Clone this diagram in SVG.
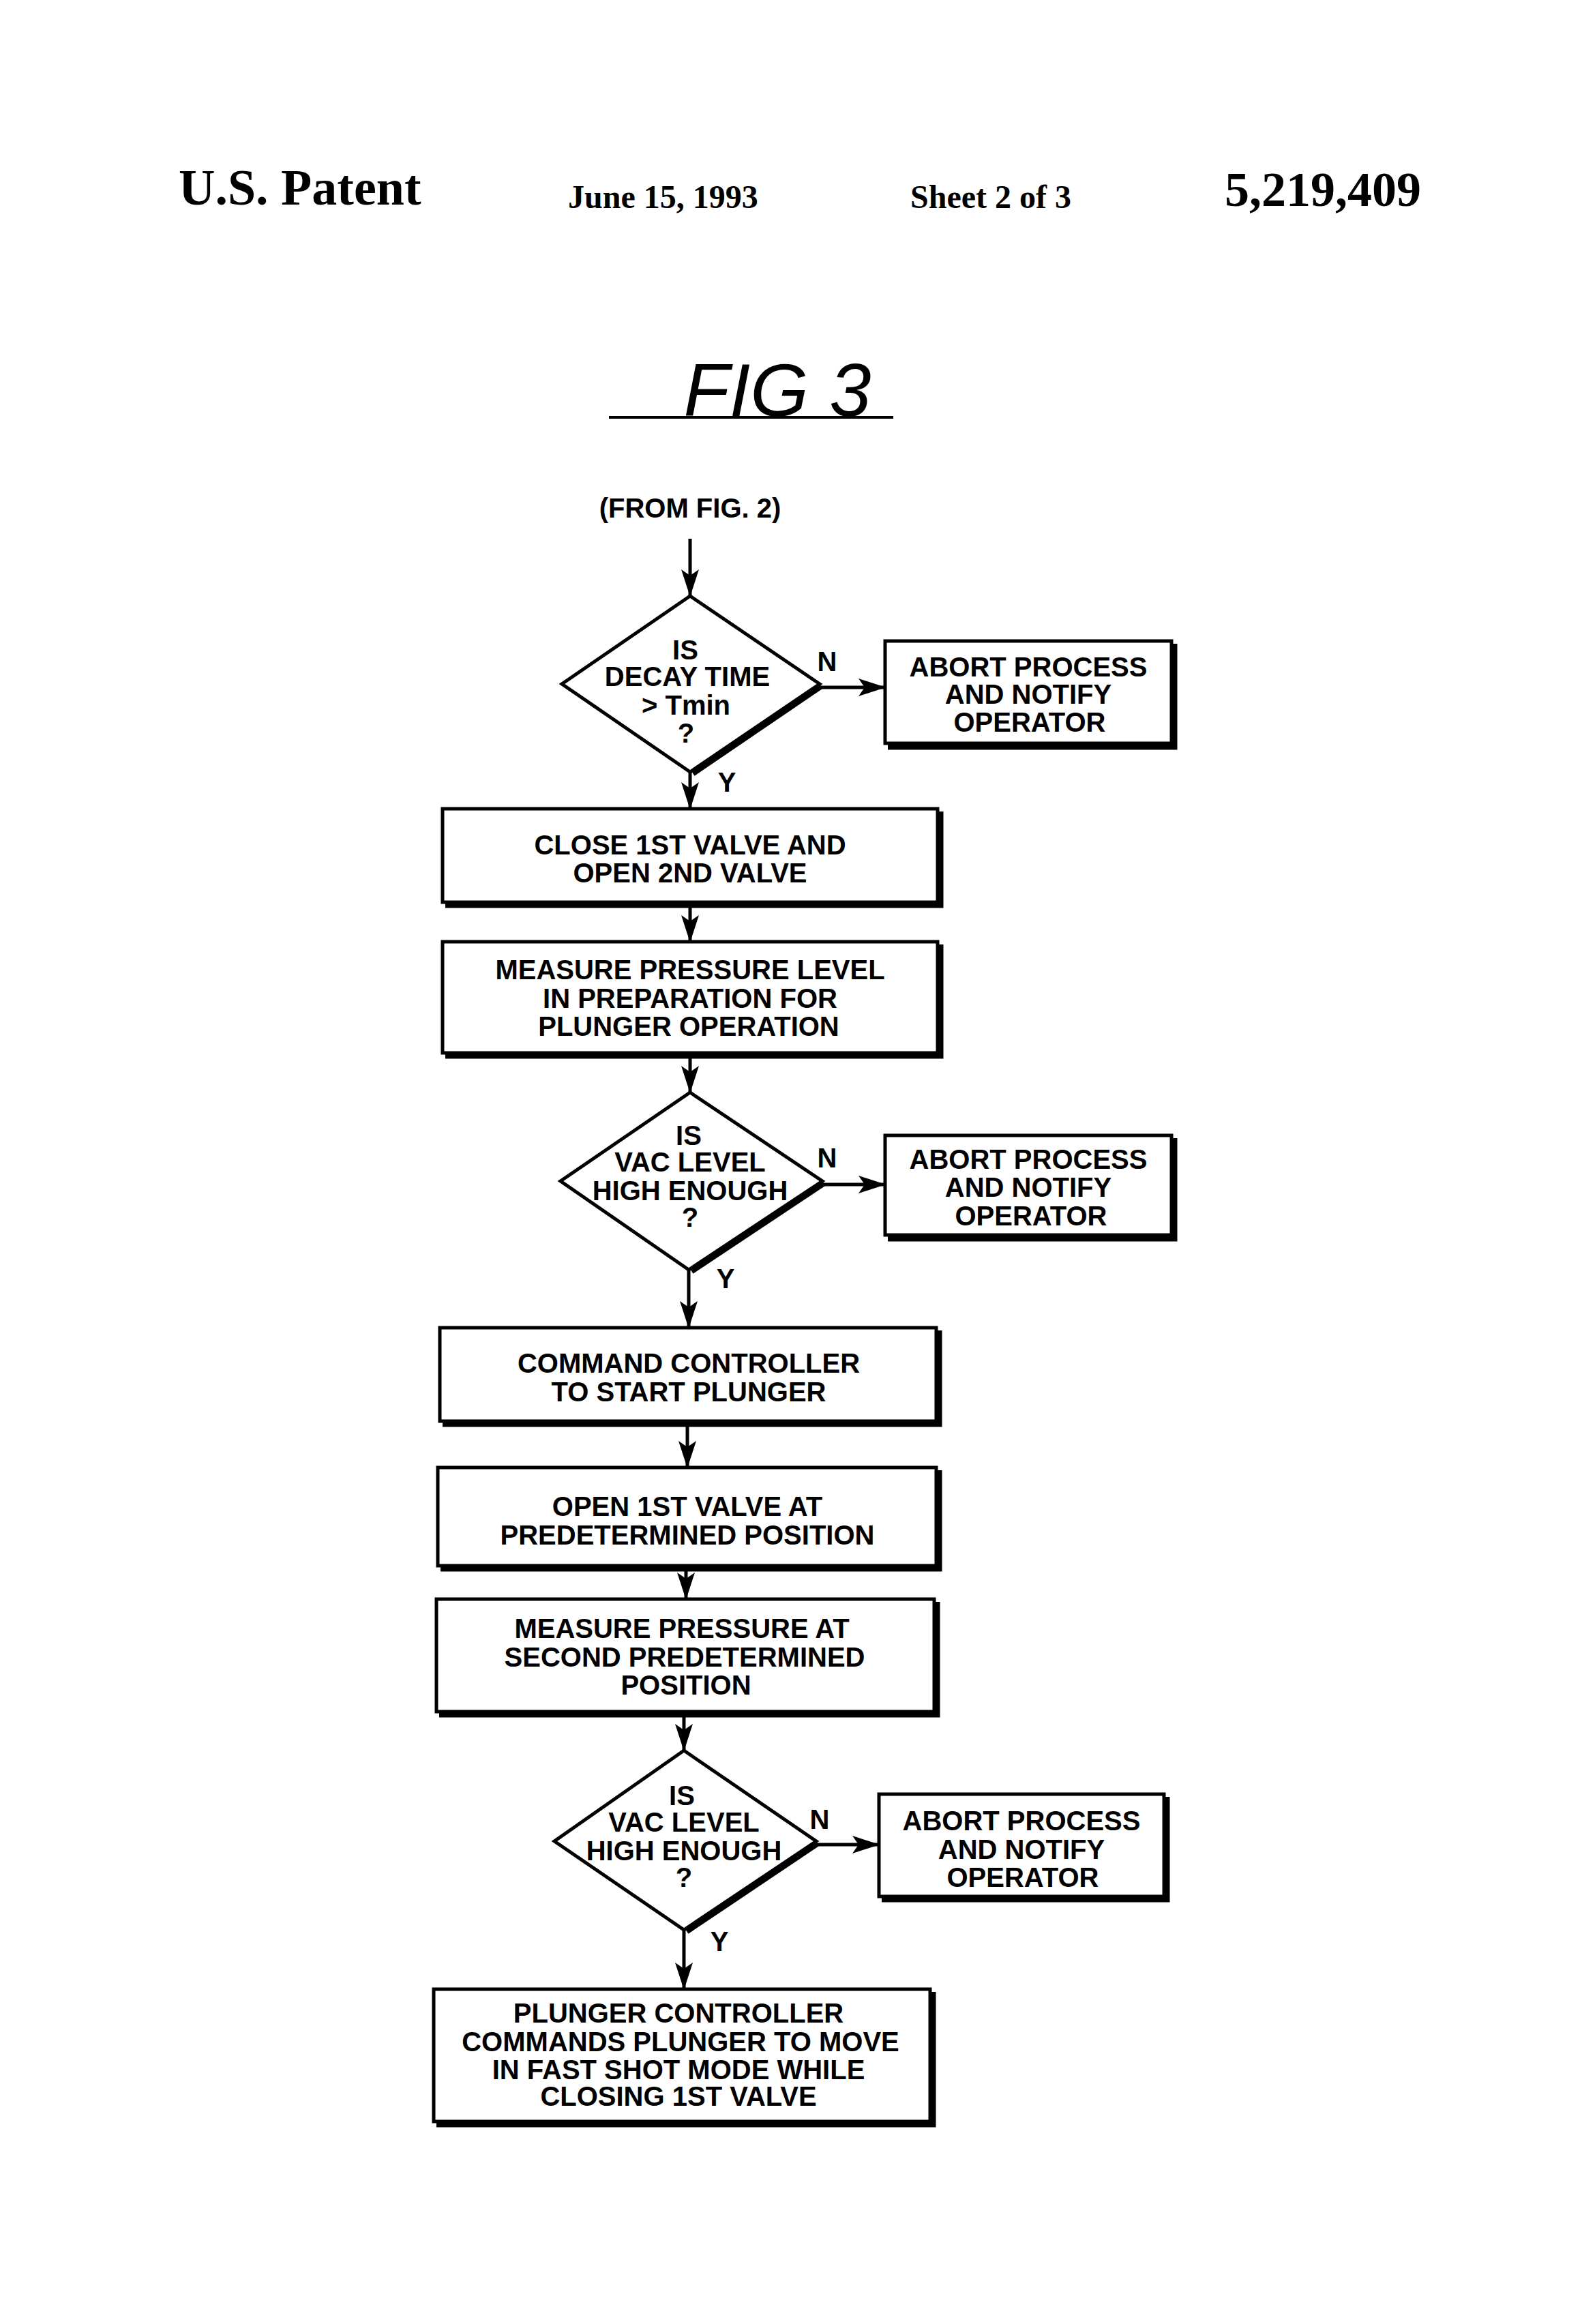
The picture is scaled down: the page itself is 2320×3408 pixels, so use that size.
<svg xmlns="http://www.w3.org/2000/svg" width="2320" height="3408" viewBox="0 0 2320 3408">
<style>
.t{font-family:"Liberation Sans",Arial,sans-serif;font-weight:bold;font-size:40px;text-anchor:middle;dominant-baseline:central;fill:#000}
.h{font-family:"Liberation Serif","Times New Roman",serif;font-weight:bold;fill:#000}
.b{fill:#fff;stroke:#000;stroke-width:5}
.s{fill:none;stroke:#000;stroke-width:9}
.c{fill:none;stroke:#000;stroke-width:5}
</style>
<defs>
<marker id="ar" markerWidth="40" markerHeight="26" refX="39" refY="13" orient="auto" markerUnits="userSpaceOnUse"><path d="M0,0 L40,13 L0,26 L9,13 Z" fill="#000"/></marker></defs>
<rect width="2320" height="3408" fill="#fff"/>
<g id="header">
<text class="h" x="262" y="300" font-size="74">U.S. Patent</text>
<text class="h" x="833" y="305" font-size="48">June 15, 1993</text>
<text class="h" x="1335" y="305" font-size="48">Sheet 2 of 3</text>
<text class="h" x="1796" y="302" font-size="72">5,219,409</text>
<text x="1140" y="610" font-family="Liberation Sans,sans-serif" font-size="110" font-style="italic" text-anchor="middle" fill="#000">FIG 3</text>
<line x1="893" y1="612" x2="1310" y2="612" stroke="#000" stroke-width="4"/>
<text class="t" x="1012" y="745">(FROM FIG. 2)</text>
</g>
<g id="connectors">
<line class="c" x1="1012" y1="790" x2="1012" y2="874" marker-end="url(#ar)"/>
<line class="c" x1="1202" y1="1008" x2="1298" y2="1008" marker-end="url(#ar)"/>
<line class="c" x1="1012" y1="1132" x2="1012" y2="1186" marker-end="url(#ar)"/>
<line class="c" x1="1012" y1="1326" x2="1012" y2="1381" marker-end="url(#ar)"/>
<line class="c" x1="1012" y1="1547" x2="1012" y2="1602" marker-end="url(#ar)"/>
<line class="c" x1="1206" y1="1737" x2="1298" y2="1737" marker-end="url(#ar)"/>
<line class="c" x1="1010" y1="1862" x2="1010" y2="1947" marker-end="url(#ar)"/>
<line class="c" x1="1008" y1="2087" x2="1008" y2="2152" marker-end="url(#ar)"/>
<line class="c" x1="1006" y1="2299" x2="1006" y2="2345" marker-end="url(#ar)"/>
<line class="c" x1="1003" y1="2513" x2="1003" y2="2567" marker-end="url(#ar)"/>
<line class="c" x1="1197" y1="2705" x2="1289" y2="2705" marker-end="url(#ar)"/>
<line class="c" x1="1003" y1="2830" x2="1003" y2="2917" marker-end="url(#ar)"/>
<text class="t" x="1213" y="970">N</text>
<text class="t" x="1066" y="1147">Y</text>
<text class="t" x="1213" y="1698">N</text>
<text class="t" x="1064" y="1875">Y</text>
<text class="t" x="1202" y="2668">N</text>
<text class="t" x="1055" y="2847">Y</text>
</g>
<g id="d1">
<polygon class="b" points="1012,874 1202,1003 1012,1132 824,1003"/>
<line class="s" x1="1204" y1="1006" x2="1016" y2="1134"/>
<text class="t" x="1005" y="953">IS</text><text class="t" x="1008" y="992">DECAY TIME</text><text class="t" x="1006" y="1034">&gt; Tmin</text><text class="t" x="1006" y="1075">?</text>
</g>
<g id="abort1">
<rect class="b" x="1298" y="940" width="420" height="150"/>
<path class="s" d="M1302,1095 H1722 V944"/>
<text class="t" x="1508" y="978">ABORT PROCESS</text><text class="t" x="1508" y="1018">AND NOTIFY</text><text class="t" x="1510" y="1059">OPERATOR</text>
</g>
<g id="b2">
<rect class="b" x="649" y="1186" width="726" height="137"/>
<path class="s" d="M653,1327 H1379 V1190"/>
<text class="t" x="1012" y="1239">CLOSE 1ST VALVE AND</text><text class="t" x="1012" y="1280">OPEN 2ND VALVE</text>
</g>
<g id="b3">
<rect class="b" x="649" y="1381" width="726" height="163"/>
<path class="s" d="M653,1548 H1379 V1385"/>
<text class="t" x="1012" y="1422">MEASURE PRESSURE LEVEL</text><text class="t" x="1012" y="1464">IN PREPARATION FOR</text><text class="t" x="1010" y="1505">PLUNGER OPERATION</text>
</g>
<g id="d2">
<polygon class="b" points="1012,1602 1206,1732 1010,1862 822,1732"/>
<line class="s" x1="1208" y1="1735" x2="1014" y2="1864"/>
<text class="t" x="1010" y="1665">IS</text><text class="t" x="1012" y="1704">VAC LEVEL</text><text class="t" x="1012" y="1746">HIGH ENOUGH</text><text class="t" x="1012" y="1785">?</text>
</g>
<g id="abort2">
<rect class="b" x="1298" y="1665" width="420" height="146"/>
<path class="s" d="M1302,1816 H1722 V1669"/>
<text class="t" x="1508" y="1700">ABORT PROCESS</text><text class="t" x="1508" y="1741">AND NOTIFY</text><text class="t" x="1512" y="1783">OPERATOR</text>
</g>
<g id="b4">
<rect class="b" x="645" y="1947" width="728" height="137"/>
<path class="s" d="M649,2088 H1377 V1951"/>
<text class="t" x="1010" y="1999">COMMAND CONTROLLER</text><text class="t" x="1010" y="2041">TO START PLUNGER</text>
</g>
<g id="b5">
<rect class="b" x="642" y="2152" width="731" height="144"/>
<path class="s" d="M646,2300 H1377 V2156"/>
<text class="t" x="1008" y="2209">OPEN 1ST VALVE AT</text><text class="t" x="1008" y="2251">PREDETERMINED POSITION</text>
</g>
<g id="b6">
<rect class="b" x="640" y="2345" width="730" height="165"/>
<path class="s" d="M644,2514 H1374 V2349"/>
<text class="t" x="1000" y="2388">MEASURE PRESSURE AT</text><text class="t" x="1004" y="2430">SECOND PREDETERMINED</text><text class="t" x="1006" y="2471">POSITION</text>
</g>
<g id="d3">
<polygon class="b" points="1003,2567 1197,2700 1003,2830 813,2700"/>
<line class="s" x1="1199" y1="2703" x2="1007" y2="2832"/>
<text class="t" x="1000" y="2633">IS</text><text class="t" x="1003" y="2672">VAC LEVEL</text><text class="t" x="1003" y="2714">HIGH ENOUGH</text><text class="t" x="1003" y="2753">?</text>
</g>
<g id="abort3">
<rect class="b" x="1289" y="2631" width="418" height="150"/>
<path class="s" d="M1293,2785 H1711 V2635"/>
<text class="t" x="1498" y="2670">ABORT PROCESS</text><text class="t" x="1498" y="2712">AND NOTIFY</text><text class="t" x="1500" y="2753">OPERATOR</text>
</g>
<g id="b7">
<rect class="b" x="636" y="2917" width="728" height="194"/>
<path class="s" d="M640,3115 H1368 V2921"/>
<text class="t" x="995" y="2952">PLUNGER CONTROLLER</text><text class="t" x="998" y="2994">COMMANDS PLUNGER TO MOVE</text><text class="t" x="995" y="3035">IN FAST SHOT MODE WHILE</text><text class="t" x="995" y="3074">CLOSING 1ST VALVE</text>
</g>
</svg>
